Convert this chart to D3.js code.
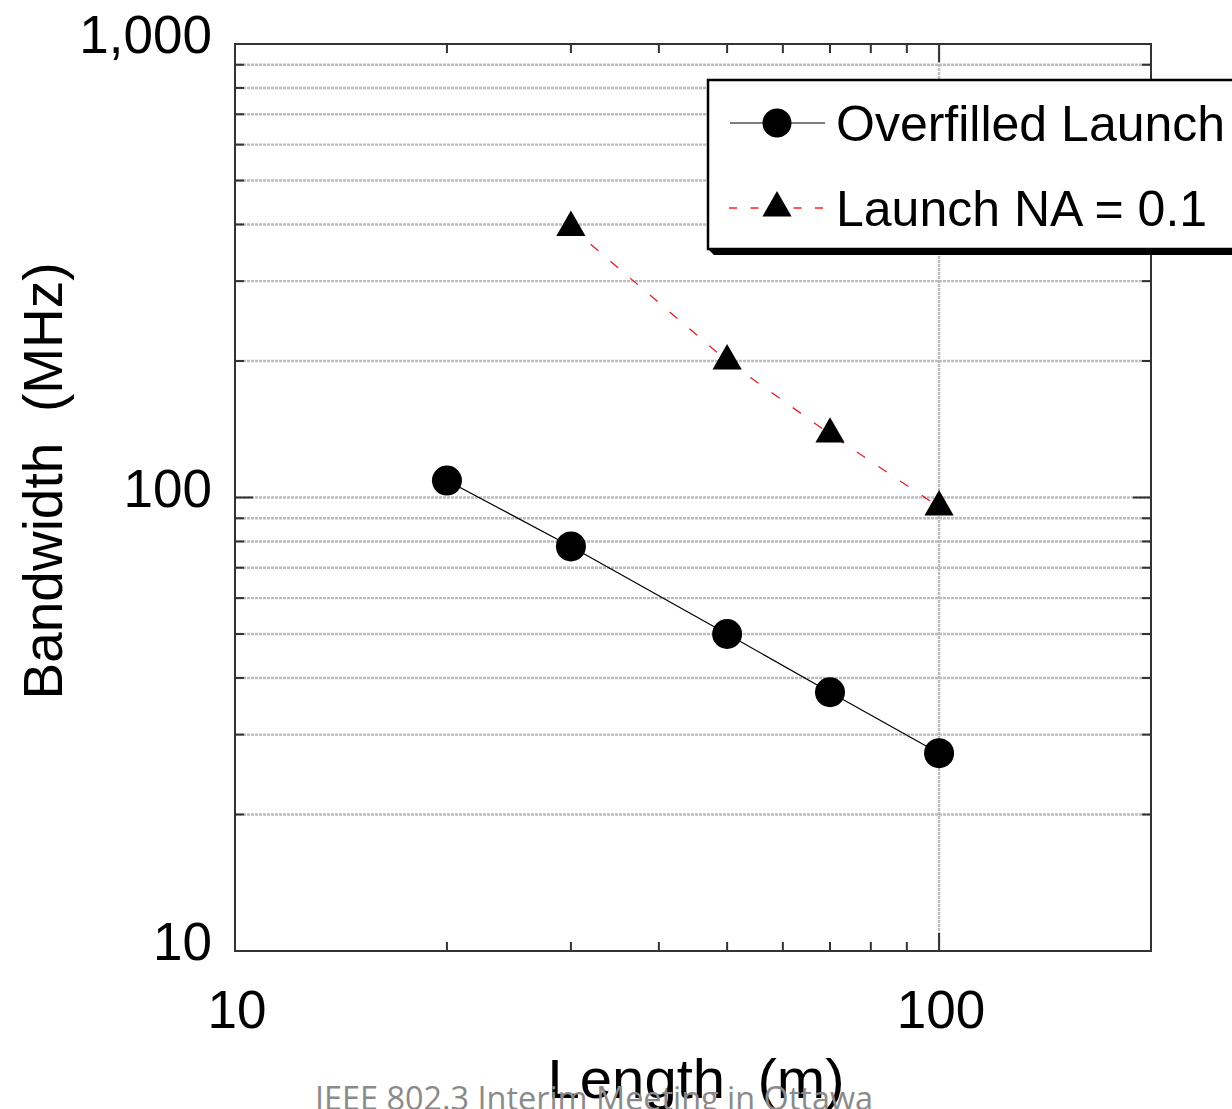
<!DOCTYPE html>
<html>
<head>
<meta charset="utf-8">
<script src="https://cdn.jsdelivr.net/npm/d3@7/dist/d3.min.js"></script>
<style>
  html, body { margin: 0; padding: 0; background: #fff; }
  svg { display: block; }
</style>
</head>
<body>
<svg id="chart" width="1232" height="1109"></svg>
<script>
// Fibre length (m) for each measurement
const lengths = [20, 30, 50, 70, 100];
// Bandwidth (MHz) under overfilled launch
const overfilledBW = [109, 78, 50, 37.2, 27.3];
// Bandwidth (MHz) with launch NA = 0.1 (measured from 30 m)
const naLengths = [30, 50, 70, 100];
const naBW = [394, 200, 138, 95.3];

const xMajorTicks = [10, 100];
const xMinorTicks = [20, 30, 40, 50, 60, 70, 80, 90, 200];
const yMajorTicks = [10, 100, 1000];
const yMinorTicks = [20, 30, 40, 50, 60, 70, 80, 90, 200, 300, 400, 500, 600, 700, 800, 900];
const seriesNames = ["Overfilled Launch", "Launch NA = 0.1"];

const svg = d3.select("#chart");
const plotLeft = 235, plotRight = 1151, plotTop = 44, plotBottom = 951;

const x = d3.scaleLog().domain([10, 200]).range([plotLeft, plotRight]);
const y = d3.scaleLog().domain([10, 1000]).range([plotBottom, plotTop]);

const fontMain = "'Liberation Sans', Arial, sans-serif";

// Grid: horizontal lines at every minor value plus 100, vertical at 100
const grid = svg.append("g").attr("stroke", "#bcbcbc").attr("stroke-width", 2.4)
  .attr("stroke-dasharray", "3,1");
grid.selectAll("line.h").data(yMinorTicks.concat([100])).join("line")
  .attr("class", "h")
  .attr("x1", plotLeft).attr("x2", plotRight)
  .attr("y1", d => y(d)).attr("y2", d => y(d));
grid.selectAll("line.v").data([100]).join("line")
  .attr("class", "v")
  .attr("x1", d => x(d)).attr("x2", d => x(d))
  .attr("y1", plotTop).attr("y2", plotBottom);

// Inward tick marks on all four sides
const ticks = svg.append("g").attr("stroke", "#333").attr("stroke-width", 2);
function xTicks(vals, len) {
  vals.forEach(v => {
    ticks.append("line").attr("x1", x(v)).attr("x2", x(v)).attr("y1", plotBottom).attr("y2", plotBottom - len);
    ticks.append("line").attr("x1", x(v)).attr("x2", x(v)).attr("y1", plotTop).attr("y2", plotTop + len);
  });
}
function yTicks(vals, len) {
  vals.forEach(v => {
    ticks.append("line").attr("x1", plotLeft).attr("x2", plotLeft + len).attr("y1", y(v)).attr("y2", y(v));
    ticks.append("line").attr("x1", plotRight).attr("x2", plotRight - len).attr("y1", y(v)).attr("y2", y(v));
  });
}
xTicks(xMinorTicks, 9);
xTicks([100], 18);
yTicks(yMinorTicks, 9);
yTicks([100], 18);

// Frame
svg.append("rect").attr("x", plotLeft).attr("y", plotTop)
  .attr("width", plotRight - plotLeft).attr("height", plotBottom - plotTop)
  .attr("fill", "none").attr("stroke", "#333").attr("stroke-width", 2);

// Tick labels
svg.append("g").selectAll("text").data(xMajorTicks).join("text")
  .attr("x", d => x(d) + 2).attr("y", 1028)
  .attr("text-anchor", "middle")
  .attr("font-family", fontMain).attr("font-size", 53)
  .text(d => d3.format(",")(d));
svg.append("g").selectAll("text").data(yMajorTicks).join("text")
  .attr("x", 212).attr("y", d => y(d) + 9)
  .attr("text-anchor", "end")
  .attr("font-family", fontMain).attr("font-size", 53)
  .text(d => d3.format(",")(d));

// Axis titles
svg.append("text")
  .attr("transform", "translate(62,481) rotate(-90)")
  .attr("text-anchor", "middle")
  .attr("font-family", fontMain).attr("font-size", 55)
  .attr("xml:space", "preserve")
  .text("Bandwidth  (MHz)");
svg.append("text")
  .attr("x", 696).attr("y", 1098)
  .attr("text-anchor", "middle")
  .attr("font-family", fontMain).attr("font-size", 55)
  .attr("xml:space", "preserve")
  .attr("textLength", 297).attr("lengthAdjust", "spacingAndGlyphs")
  .text("Length  (m)");

// Series lines and markers
const ofData = lengths.map((l, i) => [l, overfilledBW[i]]);
const naData = naLengths.map((l, i) => [l, naBW[i]]);
const line = d3.line().x(d => x(d[0])).y(d => y(d[1]));

svg.append("path").datum(ofData).attr("d", line)
  .attr("fill", "none").attr("stroke", "#000").attr("stroke-width", 1.2);
svg.append("path").datum(naData).attr("d", line)
  .attr("fill", "none").attr("stroke", "#e02020").attr("stroke-width", 1.3)
  .attr("stroke-dasharray", "10,16");

svg.append("g").selectAll("circle").data(ofData).join("circle")
  .attr("cx", d => x(d[0])).attr("cy", d => y(d[1])).attr("r", 15)
  .attr("fill", "#000");

const tri = d3.symbol(d3.symbolTriangle, 370);
svg.append("g").selectAll("path").data(naData).join("path")
  .attr("d", tri)
  .attr("transform", d => `translate(${x(d[0])},${y(d[1])})`)
  .attr("fill", "#000");

// Legend box with drop shadow
const lg = svg.append("g");
const lx = 708, ly = 80, lw = 620, lh = 169, sh = 6;
lg.append("path")
  .attr("d", `M${lx},${ly + lh} L${lx + sh},${ly + lh + sh} L${lx + lw + sh},${ly + lh + sh} L${lx + lw + sh},${ly + sh} L${lx + lw},${ly + sh} L${lx + lw},${ly + lh} Z`)
  .attr("fill", "#000");
lg.append("rect").attr("x", lx).attr("y", ly).attr("width", lw).attr("height", lh)
  .attr("fill", "#fff").attr("stroke", "#000").attr("stroke-width", 2.5);

const rowY = [123, 208];
lg.append("line").attr("x1", 730).attr("x2", 825).attr("y1", rowY[0]).attr("y2", rowY[0])
  .attr("stroke", "#000").attr("stroke-width", 1.2);
lg.append("circle").attr("cx", 777).attr("cy", rowY[0]).attr("r", 14.5).attr("fill", "#000");
lg.append("line").attr("x1", 729).attr("x2", 825).attr("y1", rowY[1]).attr("y2", rowY[1])
  .attr("stroke", "#ff2020").attr("stroke-width", 1.3).attr("stroke-dasharray", "8,13.5");
lg.append("path").attr("d", tri).attr("transform", `translate(777,${rowY[1]})`).attr("fill", "#000");

lg.selectAll("text").data(seriesNames).join("text")
  .attr("x", 836).attr("y", (d, i) => rowY[i] + 18)
  .attr("font-family", fontMain).attr("font-size", 50)
  .text(d => d);

// Slide footer
svg.append("text")
  .attr("x", 315).attr("y", 1110)
  .attr("font-family", "'Open Sans', 'Noto Sans', sans-serif").attr("font-size", 33)
  .attr("fill", "#8a8a8a")
  .attr("textLength", 558).attr("lengthAdjust", "spacingAndGlyphs")
  .text("IEEE 802.3 Interim Meeting in Ottawa");
</script>
</body>
</html>
